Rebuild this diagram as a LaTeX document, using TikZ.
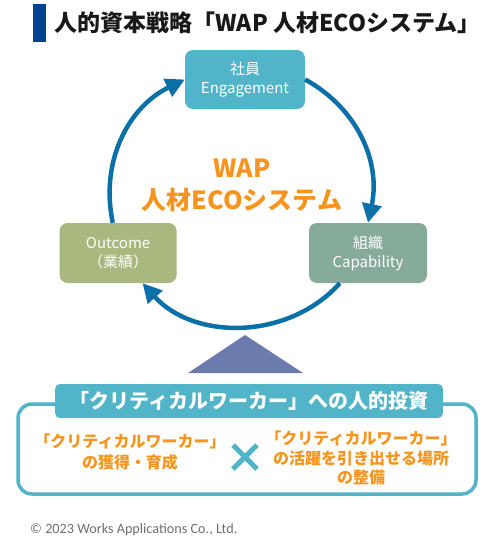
\documentclass[tikz,border=0pt]{standalone}
\usepackage{fontspec}
\setmainfont{Noto Sans CJK JP}
\newfontfamily\footfont{Carlito}
\usetikzlibrary{positioning,arrows.meta}
\definecolor{wapblue}{HTML}{0B6FA8}
\definecolor{wapteal}{HTML}{52B4C8}
\definecolor{wapolive}{HTML}{A8B87E}
\definecolor{wapsage}{HTML}{86AB9A}
\definecolor{waporange}{HTML}{F7941D}
\definecolor{wapnavy}{HTML}{00428F}
\definecolor{wapslate}{HTML}{6B7BAE}
\definecolor{wapgrey}{HTML}{6E6E6E}

\begin{document}
\begin{tikzpicture}[x=1pt,y=1pt,
    pillar/.style={rounded corners=8pt,minimum width=118pt,minimum height=59pt,text=white,align=center,inner sep=0pt,font=\fontsize{15}{19}\selectfont},
    cycle/.style={wapblue,line width=4.5pt,-{Triangle[length=19pt,width=19pt]}},
    workertext/.style={text=waporange,align=center,font=\bfseries\fontsize{16}{21}\selectfont}]
    \useasboundingbox (0,0) rectangle (494,-549);
    \node[fill=wapnavy,minimum width=13pt,minimum height=38pt,inner sep=0pt] (bar) at (39.5,-23) {};
    \node[right=8pt of bar,inner sep=0pt,text=black!90,font=\bfseries\fontsize{23}{26}\selectfont] (title) {人的資本戦略「WAP 人材ECOシステム」};
    \node[pillar,fill=wapteal,minimum width=120pt] (eng) at (245,-79.5) {社員\\Engagement};
    \node[pillar,fill=wapsage,minimum height=60pt] (cap) at (368,-253) {組織\\Capability};
    \node[pillar,fill=wapolive,minimum width=117pt,minimum height=60pt,left=132pt of cap] (oc) {Outcome\\（業績）};
    \node[text=waporange,align=center,font=\bfseries\fontsize{25}{32}\selectfont] (eco) at (242,-185) {WAP\\人材ECOシステム};
    \draw[cycle] (eng.east) to[out=-29,in=78] (cap.north);
    \draw[cycle] (cap.-133) to[out=-132,in=-48] (oc.-51);
    \draw[cycle] (oc.100) to[out=102,in=206] (eng.west);
    \fill[wapslate] (245,-335) -- (188,-373) -- (303,-373) -- cycle;
    \node[draw=wapteal,line width=3.5pt,rounded corners=14pt,minimum width=458pt,minimum height=90pt] (invest) at (247,-449) {};
    \node[fill=wapteal,rounded corners=5pt,minimum width=388pt,minimum height=34pt,text=white,font=\bfseries\fontsize{20}{22}\selectfont] (head) at (249,-401) {「クリティカルワーカー」への人的投資};
    \node[workertext] (gain) at (130,-452.5) {「クリティカルワーカー」\\の獲得・育成};
    \node[workertext,font=\bfseries\fontsize{16}{19.5}\selectfont] (place) at (361,-458) {「クリティカルワーカー」\\の活躍を引き出せる場所\\の整備};
    \draw[wapteal,line width=5pt] (245,-457) ++(-12,12) -- ++(24,-24) ++(0,24) -- ++(-24,-24);
    \node[anchor=west,inner sep=0pt,text=wapgrey,font=\footfont\fontsize{14.2}{16}\selectfont] (copy) at (30,-530) {© 2023 Works Applications Co., Ltd.};
\end{tikzpicture}
\end{document}
